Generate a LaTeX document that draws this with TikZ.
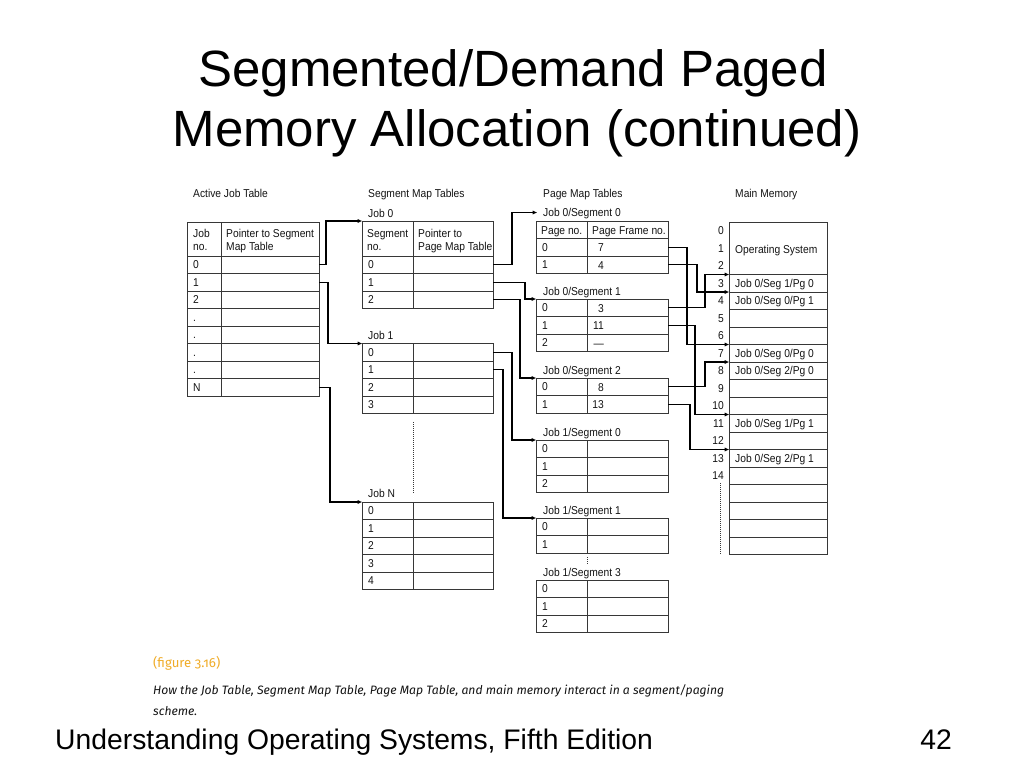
\documentclass[tikz,border=0pt]{standalone}
\usepackage{fontspec}
\setmainfont{Liberation Sans}
\newfontfamily\diafont[FakeStretch=0.9]{Liberation Sans}
\newfontfamily\capfont[Numbers=OldStyle]{Fira Sans}
\usetikzlibrary{arrows.meta}
\definecolor{figorange}{RGB}{240,172,40}
\definecolor{ink}{RGB}{20,20,20}
\definecolor{rule}{RGB}{55,55,55}
\newcommand\tabfont{\diafont\fontsize{11.4}{13}\selectfont}
% #1 name, #2 xl, #3 xdiv, #4 xr, #5 ytop, #6 first data row top, #7 nrows, #8 labels
\newcommand\drawtable[8]{%
  \pgfmathsetmacro\tbot{#6+17.5*#7}%
  \pgfmathtruncatemacro\tlast{#7-1}%
  \draw[tbl] (#2,#5) rectangle (#4,\tbot);
  \draw[tbl] (#3,#5) -- (#3,\tbot);
  \foreach \i in {0,...,\tlast}{\draw[tbl] (#2,{#6+17.5*\i}) -- (#4,{#6+17.5*\i});}
  \foreach \i in {0,...,\tlast}{\coordinate (#1-\i) at (#4,{#6+17.5*(\i+0.5)});}
  \coordinate (#1-top) at (#2,#5);
  \foreach \t [count=\j from 0] in {#8}{\node[cell,name=#1-t\j] at ({#2+6},{#6+17.5*(\j+0.5)+4}) {\t};}
}
\begin{document}
\begin{tikzpicture}[x=1pt,y=-1pt,
  tbl/.style={draw=rule,line width=0.95pt},
  cell/.style={anchor=base west,inner sep=0pt,font=\tabfont,text=ink},
  cellr/.style={anchor=base east,inner sep=0pt,font=\tabfont,text=ink},
  conn/.style={draw=black,line width=1.4pt,-{Triangle[length=4.5pt,width=3.6pt]}},
  dots/.style={draw=rule,line width=0.9pt,dash pattern=on 1pt off 1pt}]
\fill[white] (0,0) rectangle (1024,768);
\useasboundingbox (0,0) rectangle (1024,768);

% Title
\node[anchor=base,inner sep=0pt,font=\fontsize{51}{60}\selectfont] (title1) at (513,86) {Segmented/Demand Paged};
\node[anchor=base,inner sep=0pt,font=\fontsize{51}{60}\selectfont] (title2) at (517,146) {Memory Allocation (continued)};

% Section headings
\node[cell] (hajt) at (193,197) {Active Job Table};
\node[cell] (hsmt) at (368,197) {Segment Map Tables};
\node[cell] (hpmt) at (543,197) {Page Map Tables};
\node[cell] (hmm) at (735,197) {Main Memory};

% Active Job Table
\drawtable{ajt}{187}{221}{319}{222}{256}{8}{0,1,2,.,.,.,.,N}
\node[cell] (ajth1) at (193,237.5) {Job};
\node[cell] (ajth2) at (193,250.5) {no.};
\node[cell] (ajth3) at (226,237.5) {Pointer to Segment};
\node[cell] (ajth4) at (226,250.5) {Map Table};

% Segment map tables
\node[cell] (lj0) at (368,217) {Job 0};
\drawtable{sa}{362}{413}{493}{221}{256}{3}{0,1,2}
\node[cell] (sah1) at (367,237.5) {Segment};
\node[cell] (sah2) at (367,250.5) {no.};
\node[cell] (sah3) at (418,237.5) {Pointer to};
\node[cell] (sah4) at (418,250.5) {Page Map Table};
\node[cell] (lj1) at (368,339) {Job 1};
\drawtable{sb}{362}{413}{493}{343.5}{343.5}{4}{0,1,2,3}
\draw[dots] (413,422) -- (413,493);
\node[cell] (ljn) at (368,497) {Job N};
\drawtable{sn}{362}{413}{493}{502}{502}{5}{0,1,2,3,4}

% Page map tables
\node[cell] (lp00) at (543,216.5) {Job 0/Segment 0};
\drawtable{pa}{536}{587}{668}{221}{238.5}{2}{0,1}
\node[cell] (pah1) at (541,234) {Page no.};
\node[cell] (pah2) at (592,234) {Page Frame no.};
\node[cellr] (pav0) at (604,251.5) {7};
\node[cellr] (pav1) at (604,269) {4};
\coordinate (lp00w) at (537,212.5);

\node[cell] (lp01) at (543,295) {Job 0/Segment 1};
\drawtable{pb}{536}{587}{668}{299}{299}{3}{0,1,2}
\node[cellr] (pbv0) at (604,312) {3};
\node[cellr] (pbv1) at (604,329.5) {11};
\node[cellr] (pbv2) at (604,347) {—};

\node[cell] (lp02) at (543,374) {Job 0/Segment 2};
\drawtable{pc}{536}{587}{668}{378}{378}{2}{0,1}
\node[cellr] (pcv0) at (604,391) {8};
\node[cellr] (pcv1) at (604,408.5) {13};

\node[cell] (lp10) at (543,436) {Job 1/Segment 0};
\drawtable{pd}{536}{587}{668}{440}{440}{3}{0,1,2}
\node[cell] (lp11) at (543,514) {Job 1/Segment 1};
\drawtable{pe}{536}{587}{668}{518}{518}{2}{0,1}
\draw[dots] (587,557) -- (587,564);
\node[cell] (lp13) at (543,576) {Job 1/Segment 3};
\drawtable{pf}{536}{587}{668}{580}{580}{3}{0,1,2}

% Main memory
\draw[tbl] (729,222) rectangle (827,554.5);
\foreach \k in {0,...,15}{\draw[tbl] (729,{274.5+17.5*\k}) -- (827,{274.5+17.5*\k});}
\foreach \k in {3,...,18}{\coordinate (mm-\k) at (729,{274.5+17.5*(\k-3)});}
\foreach \k in {0,1,2}{\node[cellr,name=mmn\k] at (724,{222+17.5*(\k+0.5)+4}) {\k};}
\foreach \k in {3,...,14}{\node[cellr,name=mmn\k] at (724,{274.5+17.5*(\k-3+0.5)+4}) {\k};}
\draw[dots] (720,483) -- (720,555);
\node[cell] (mos) at (735,253) {Operating System};
\node[cell] (mm3t) at (735,287.25) {Job 0/Seg 1/Pg 0};
\node[cell] (mm4t) at (735,304.75) {Job 0/Seg 0/Pg 1};
\node[cell] (mm7t) at (735,357.25) {Job 0/Seg 0/Pg 0};
\node[cell] (mm8t) at (735,374.75) {Job 0/Seg 2/Pg 0};
\node[cell] (mm11t) at (735,427.25) {Job 0/Seg 1/Pg 1};
\node[cell] (mm13t) at (735,462.25) {Job 0/Seg 2/Pg 1};

% Connectors: job table -> segment map tables
\draw[conn] (ajt-0) -- ++(7,0) |- (sa-top);
\draw[conn] (ajt-1) -- ++(9,0) |- (sb-top);
\draw[conn] (ajt-7) -- ++(11,0) |- (sn-top);

% segment map tables -> page map tables
\draw[conn] (sa-0) -- ++(19,0) |- (lp00w);
\draw[conn] (sa-1) -- ++(32,0) |- (pb-top);
\draw[conn] (sa-2) -- ++(27,0) |- (pc-top);
\draw[conn] (sb-0) -- ++(19,0) |- (pd-top);
\draw[conn] (sb-1) -- ++(10,0) |- (pe-top);

% page map tables -> main memory
\draw[conn] (pa-0) -- ++(19,0) |- (mm-7);
\draw[conn] (pa-1) -- ++(29,0) |- (mm-4);
\draw[conn] (pb-0) -- ++(37,0) |- (mm-3);
\draw[conn] (pb-1) -- ++(27,0) |- (mm-11);
\draw[conn] (pc-0) -- ++(37,0) |- (mm-8);
\draw[conn] (pc-1) -- ++(22,0) |- (mm-13);

% Caption
\node[anchor=base west,inner sep=0pt,text=figorange,font=\capfont\fontsize{13.2}{15}\selectfont] (fig) at (153,667) {(figure 3.16)};
\node[anchor=base west,inner sep=0pt,text=ink,font=\capfont\itshape\fontsize{12.15}{14}\selectfont] (cap1) at (153,694) {How the Job Table, Segment Map Table, Page Map Table, and main memory interact in a segment/paging};
\node[anchor=base west,inner sep=0pt,text=ink,font=\capfont\itshape\fontsize{12.15}{14}\selectfont] (cap2) at (153,715) {scheme.};

% Footer
\node[anchor=base west,inner sep=0pt,font=\fontsize{28.3}{32}\selectfont] (foot) at (55,749) {Understanding Operating Systems, Fifth Edition};
\node[anchor=base east,inner sep=0pt,font=\fontsize{28.3}{32}\selectfont] (pg) at (952,749) {42};
\end{tikzpicture}
\end{document}
